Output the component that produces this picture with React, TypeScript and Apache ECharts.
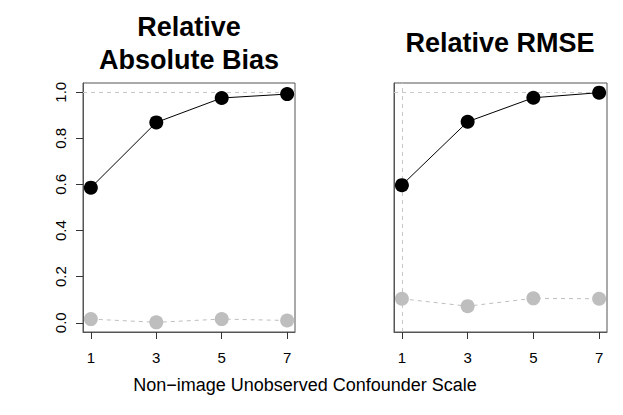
import React, { useEffect, useRef } from "react";
import * as echarts from "echarts";

const scales = [1, 3, 5, 7];
const yTicks = [0, 0.2, 0.4, 0.6, 0.8, 1.0];
const biasMain = [0.586, 0.869, 0.975, 0.992];
const biasRef = [0.016, 0.002, 0.016, 0.01];
const rmseMain = [0.597, 0.872, 0.976, 0.998];
const rmseRef = [0.104, 0.072, 0.106, 0.104];
const titleLeft = "Relative\nAbsolute Bias";
const titleRight = "Relative RMSE";
const xTitle = "Non\u2212image Unobserved Confounder Scale";

const FONT = "'Liberation Sans', Arial, Helvetica, sans-serif";
const GRAY = "#bebebe";
const BOX = "#555555";

function pairs(vals: number[]) {
  return scales.map((s, i) => [s, vals[i]]);
}

export default function App() {
  const ref = useRef<HTMLDivElement>(null);
  useEffect(() => {
    if (!ref.current) return;
    const chart = echarts.init(ref.current, null, { renderer: "svg" });

    const xAxisBase = (gridIndex: number) => ({
      type: "value",
      gridIndex,
      min: 0.76,
      max: 7.24,
      splitLine: { show: false },
      axisLine: { show: true, onZero: false, lineStyle: { color: BOX, width: 1 } },
      axisTick: {
        show: true,
        inside: false,
        length: 7,
        customValues: scales,
        lineStyle: { color: "#333", width: 1 },
      },
      axisLabel: {
        show: true,
        customValues: scales,
        margin: 18,
        fontSize: 15,
        color: "#000",
        fontFamily: FONT,
      },
    });

    const yAxisBase = (gridIndex: number, showLabels: boolean) => ({
      type: "value",
      gridIndex,
      min: -0.04,
      max: 1.04,
      splitLine: { show: false },
      axisLine: { show: true, onZero: false, lineStyle: { color: BOX, width: 1 } },
      axisTick: {
        show: showLabels,
        inside: false,
        length: 7,
        customValues: yTicks,
        lineStyle: { color: "#333", width: 1 },
      },
      axisLabel: {
        show: showLabels,
        customValues: yTicks,
        rotate: 90,
        margin: 15,
        fontSize: 15,
        color: "#000",
        fontFamily: FONT,
        formatter: (v: number) => v.toFixed(1),
      },
    });

    const dashed = { type: [4, 4], color: "#c8c8c8", width: 1 };

    const mainSeries = (idx: number, vals: number[], marks: any[]) => ({
      type: "line",
      xAxisIndex: idx,
      yAxisIndex: idx,
      data: pairs(vals),
      symbol: "circle",
      symbolSize: 14,
      itemStyle: { color: "#000" },
      lineStyle: { color: "#000", width: 1 },
      z: 5,
      markLine: {
        silent: true,
        symbol: "none",
        label: { show: false },
        lineStyle: dashed,
        data: marks,
        z: 1,
      },
    });

    const refSeries = (idx: number, vals: number[]) => ({
      type: "line",
      xAxisIndex: idx,
      yAxisIndex: idx,
      data: pairs(vals),
      symbol: "circle",
      symbolSize: 14,
      itemStyle: { color: GRAY },
      lineStyle: { color: GRAY, width: 1, type: [4, 4] },
      z: 4,
    });

    chart.setOption({
      animation: false,
      grid: [
        { left: 83, top: 83, width: 212, height: 249, show: true, borderColor: BOX, borderWidth: 1, backgroundColor: "transparent" },
        { left: 394, top: 83, width: 213, height: 249, show: true, borderColor: BOX, borderWidth: 1, backgroundColor: "transparent" },
      ],
      xAxis: [xAxisBase(0), xAxisBase(1)],
      yAxis: [yAxisBase(0, true), yAxisBase(1, false)],
      series: [
        refSeries(0, biasRef),
        mainSeries(0, biasMain, [{ yAxis: 1 }]),
        refSeries(1, rmseRef),
        mainSeries(1, rmseMain, [{ yAxis: 1 }, { xAxis: 1 }]),
      ],
      graphic: [
        {
          type: "text",
          x: 189,
          y: 43.5,
          style: {
            text: titleLeft,
            fontSize: 27,
            fontWeight: "bold",
            fontFamily: FONT,
            fill: "#000",
            align: "center",
            verticalAlign: "middle",
            lineHeight: 33,
          },
        },
        {
          type: "text",
          x: 500,
          y: 43,
          style: {
            text: titleRight,
            fontSize: 27,
            fontWeight: "bold",
            fontFamily: FONT,
            fill: "#000",
            align: "center",
            verticalAlign: "middle",
          },
        },
        {
          type: "text",
          x: 305,
          y: 385,
          style: {
            text: xTitle,
            fontSize: 18,
            fontFamily: FONT,
            fill: "#000",
            align: "center",
            verticalAlign: "middle",
          },
        },
      ],
    });
    return () => chart.dispose();
  }, []);
  return <div ref={ref} style={{ width: 623, height: 415, position: "absolute", left: 0, top: 0, background: "#fff" }} />;
}
